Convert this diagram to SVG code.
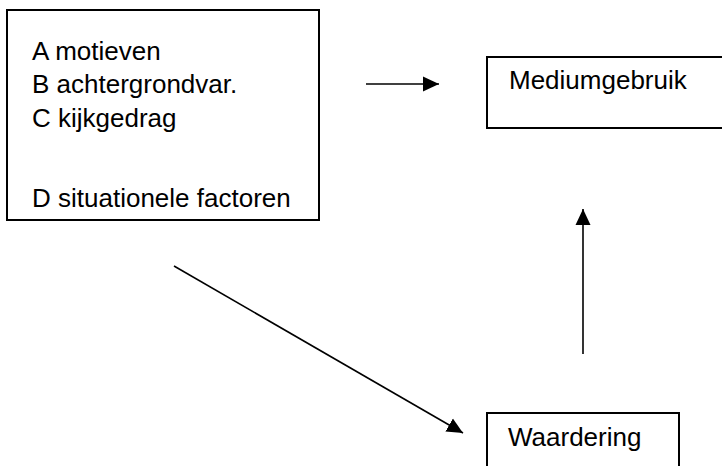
<svg xmlns="http://www.w3.org/2000/svg" width="722" height="466" viewBox="0 0 722 466">
  <style>
    .box { fill: #ffffff; stroke: #000000; stroke-width: 2; }
    .lbl { font-family: "Liberation Sans", Arial, sans-serif; font-size: 26px; fill: #000000; }
    .conn { stroke: #000000; stroke-width: 1.6; fill: none; marker-end: url(#arrow); }
  </style>
  <defs>
    <marker id="arrow" markerUnits="userSpaceOnUse" markerWidth="16" markerHeight="16" refX="16" refY="8" orient="auto">
      <path d="M0,0.5 L16,8 L0,15.5 z" fill="#000000"/>
    </marker>
  </defs>
  <rect width="722" height="466" fill="#ffffff"/>
  <g id="factors">
    <rect class="box" x="7" y="10" width="312" height="210"/>
    <text class="lbl" x="32" y="60">A motieven</text>
    <text class="lbl" x="32" y="93">B achtergrondvar.</text>
    <text class="lbl" x="32" y="127">C kijkgedrag</text>
    <text class="lbl" x="32" y="207">D situationele factoren</text>
  </g>
  <g id="mediumgebruik">
    <rect class="box" x="487" y="57" width="245" height="71"/>
    <text class="lbl" x="509" y="89">Mediumgebruik</text>
  </g>
  <g id="waardering">
    <rect class="box" x="487" y="413" width="192" height="63"/>
    <text class="lbl" x="508" y="446">Waardering</text>
  </g>
  <g id="connectors">
    <line class="conn" x1="366" y1="84" x2="439" y2="84"/>
    <line class="conn" x1="583" y1="354" x2="583" y2="209"/>
    <line class="conn" x1="174" y1="266" x2="463" y2="433"/>
  </g>
</svg>
